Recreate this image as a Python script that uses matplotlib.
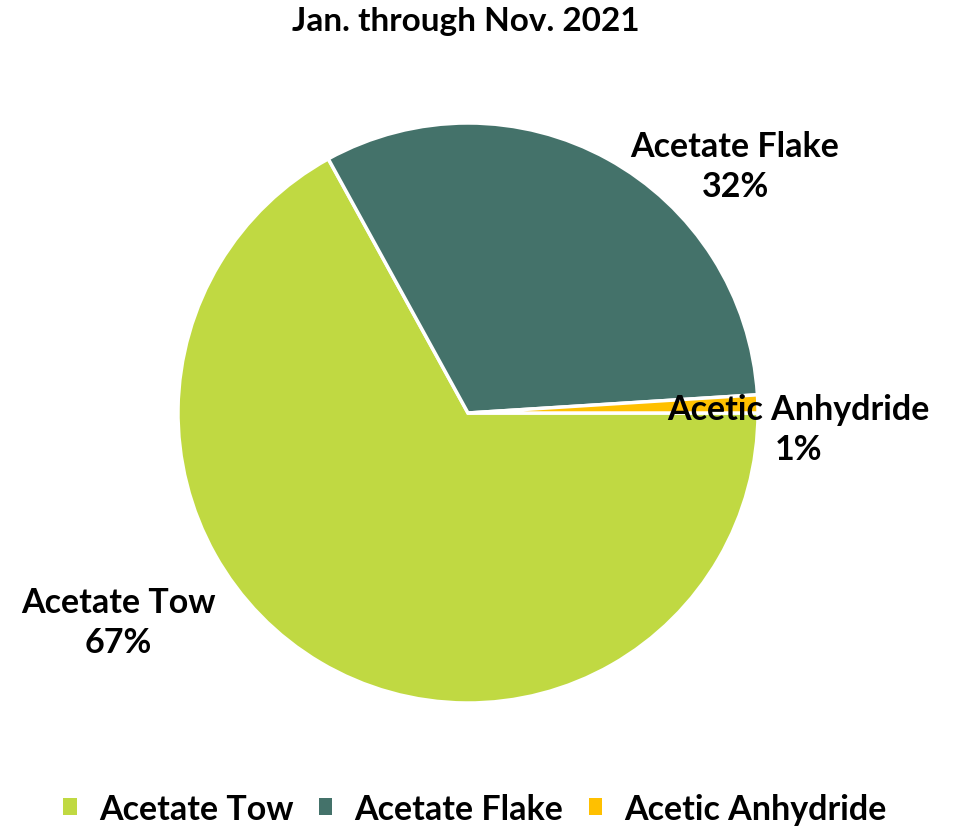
import matplotlib
matplotlib.use("Agg")
import matplotlib.pyplot as plt
from matplotlib.patches import Patch

categories = ["Acetate Tow", "Acetate Flake", "Acetic Anhydride"]
values = [67, 32, 1]
colors = ["#C0D942", "#44726A", "#FFC000"]
title = "Jan. through Nov. 2021"

plt.rcParams['font.family'] = ['Lato', 'DejaVu Sans']

W, H = 956, 829
fig = plt.figure(figsize=(W / 100, H / 100), dpi=100)
cx, cy, r = 468, 414, 290
ax = fig.add_axes([(cx - r) / W, (H - cy - r) / H, 2 * r / W, 2 * r / H])

wedges, _ = ax.pie(values, colors=colors, startangle=0, counterclock=False,
                   wedgeprops=dict(edgecolor="white", linewidth=2.5))
ax.set_xlim(-1, 1)
ax.set_ylim(-1, 1)
ax.set_aspect("equal")
ax.axis("off")

label_pos = [(-1.207, -0.72), (0.921, 0.852), (1.138, -0.055)]
for cat, v, (x, y) in zip(categories, values, label_pos):
    ax.text(x, y, f"{cat}\n{v}%", ha="center", va="center", fontsize=24.5,
            fontweight="bold", linespacing=1.3, clip_on=False)

fig.text(466 / W, 1 - 22 / H, title, ha="center", va="center", fontsize=24,
         fontweight="bold")

handles = [Patch(facecolor=c, edgecolor="none") for c in colors]
fig.legend(handles, categories, loc="center", bbox_to_anchor=(475 / W, 1 - 810 / H),
           ncol=3, frameon=False, prop=dict(size=24.5, weight="bold"),
           handlelength=0.4, handleheight=0.4, handletextpad=0.65, columnspacing=0.75)

fig.savefig("out.png", dpi=100)
